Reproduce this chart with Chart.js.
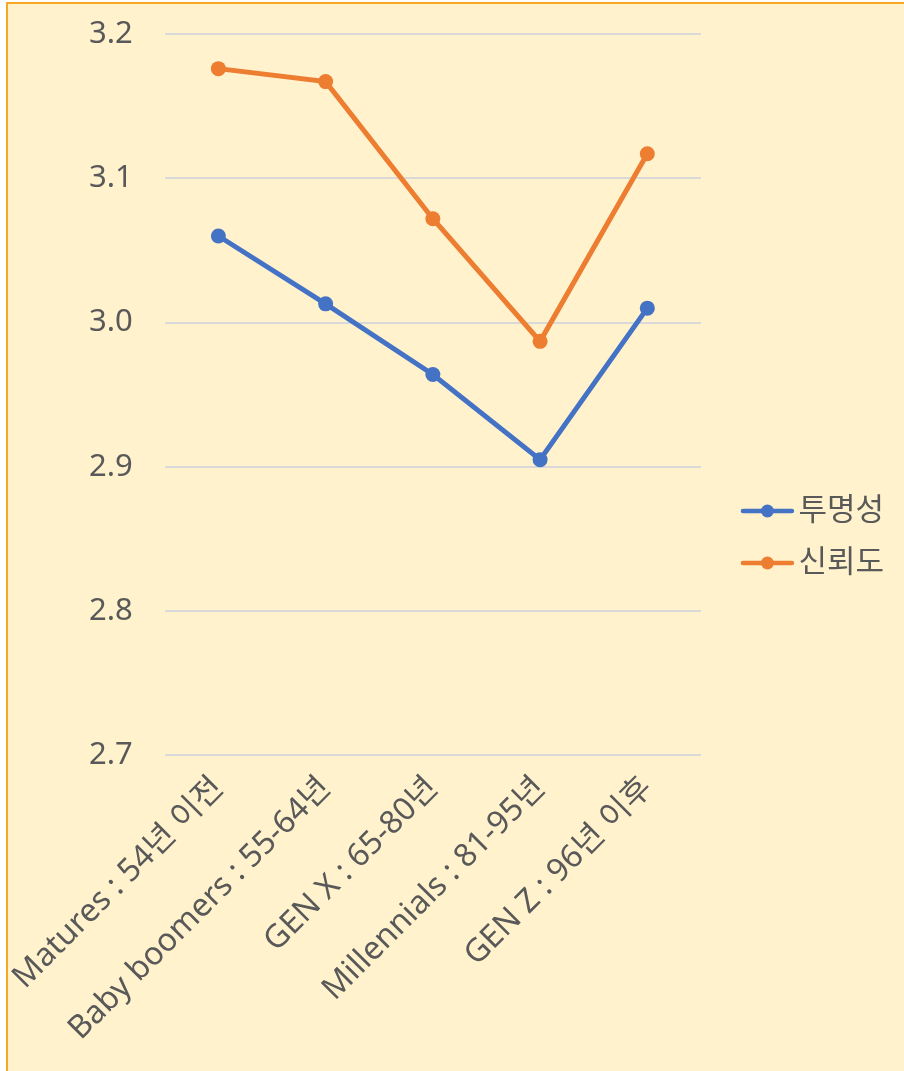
<!DOCTYPE html>
<html>
<head>
<meta charset="utf-8">
<script src="https://cdn.jsdelivr.net/npm/chart.js@4"></script>
<style>
  html, body { margin: 0; padding: 0; width: 904px; height: 1071px; overflow: hidden; background: #fff; }
  #frame {
    position: absolute; left: 6px; top: 2px; width: 910px; height: 1080px;
    background: #FFF2CC; border: 2px solid #F7A823; box-sizing: border-box;
  }
  #wrap { position: absolute; left: 0; top: 0; width: 904px; height: 1071px; }
</style>
</head>
<body>
<div id="frame"></div>
<div id="wrap"><canvas id="genChart"></canvas></div>
<script>
// Generations
const categories = ['Matures : 54년 이전', 'Baby boomers : 55-64년', 'GEN X : 65-80년', 'Millennials : 81-95년', 'GEN Z : 96년 이후'];
const transparency = [3.060, 3.013, 2.964, 2.905, 3.010]; // 투명성
const trust = [3.176, 3.167, 3.072, 2.987, 3.117];        // 신뢰도
const seriesNames = ['투명성', '신뢰도'];
const seriesColors = ['#4472C4', '#ED7D31'];

const FONT = "'Noto Sans', 'Noto Sans CJK KR', sans-serif";
const TEXT = '#595959';
const MARKER_OFFSET = 30; // from legend item left to marker line start
const MARKER_LEN = 53;

// draws line + dot markers in legend, like the Excel style
const legendMarkers = {
    id: 'legendMarkers',
    afterDraw(chart) {
        const legend = chart.legend;
        if (!legend || !legend.legendHitBoxes) return;
        const ctx = chart.ctx;
        legend.legendHitBoxes.forEach((hb, i) => {
            const y = hb.top + hb.height / 2;
            const x0 = hb.left + MARKER_OFFSET;
            ctx.save();
            ctx.strokeStyle = seriesColors[i];
            ctx.lineWidth = 4.5;
            ctx.lineCap = 'round';
            ctx.beginPath();
            ctx.moveTo(x0 + 2, y);
            ctx.lineTo(x0 + MARKER_LEN - 2, y);
            ctx.stroke();
            ctx.fillStyle = seriesColors[i];
            ctx.beginPath();
            ctx.arc(x0 + MARKER_LEN / 2, y, 6.5, 0, Math.PI * 2);
            ctx.fill();
            ctx.restore();
        });
    }
};

const ctx = document.getElementById('genChart').getContext('2d');
new Chart(ctx, {
    type: 'line',
    data: {
        labels: categories,
        datasets: [
            { label: seriesNames[0], data: transparency },
            { label: seriesNames[1], data: trust }
        ].map((ds, i) => ({
            ...ds,
            borderColor: seriesColors[i],
            backgroundColor: seriesColors[i],
            borderWidth: 5,
            pointRadius: 7.5,
            pointHoverRadius: 8,
            pointBorderWidth: 0,
            tension: 0
        }))
    },
    options: {
        responsive: true,
        maintainAspectRatio: false,
        animation: false,
        layout: {
            padding: { left: 57, top: 20, right: 10, bottom: 17 }
        },
        scales: {
            x: {
                offset: true,
                grid: { display: false },
                border: { display: false },
                ticks: {
                    color: TEXT,
                    font: { family: FONT, size: 32 },
                    maxRotation: 45,
                    minRotation: 45,
                    padding: 6
                },
                afterFit(scale) {
                    scale.paddingLeft = 0;
                    scale.paddingRight = 0;
                }
            },
            y: {
                min: 2.7,
                max: 3.2,
                grid: { color: '#D9D9D9', lineWidth: 2, drawTicks: false },
                border: { display: false },
                ticks: {
                    stepSize: 0.1,
                    color: TEXT,
                    font: { family: FONT, size: 31 },
                    padding: 32,
                    callback: v => v.toFixed(1)
                },
                afterFit(scale) {
                    scale.paddingTop = 34;
                    scale.paddingBottom = 0;
                }
            }
        },
        plugins: {
            legend: {
                position: 'right',
                labels: {
                    color: TEXT,
                    font: { family: FONT, size: 31 },
                    boxWidth: 72,
                    boxHeight: 42,
                    padding: 10,
                    generateLabels: function (chart) {
                        return chart.data.datasets.map((ds, i) => ({
                            text: ds.label,
                            fillStyle: 'rgba(0,0,0,0)',
                            strokeStyle: 'rgba(0,0,0,0)',
                            lineWidth: 0,
                            fontColor: TEXT,
                            datasetIndex: i
                        }));
                    }
                }
            },
            tooltip: { enabled: false }
        }
    },
    plugins: [legendMarkers]
});
</script>
</body>
</html>
